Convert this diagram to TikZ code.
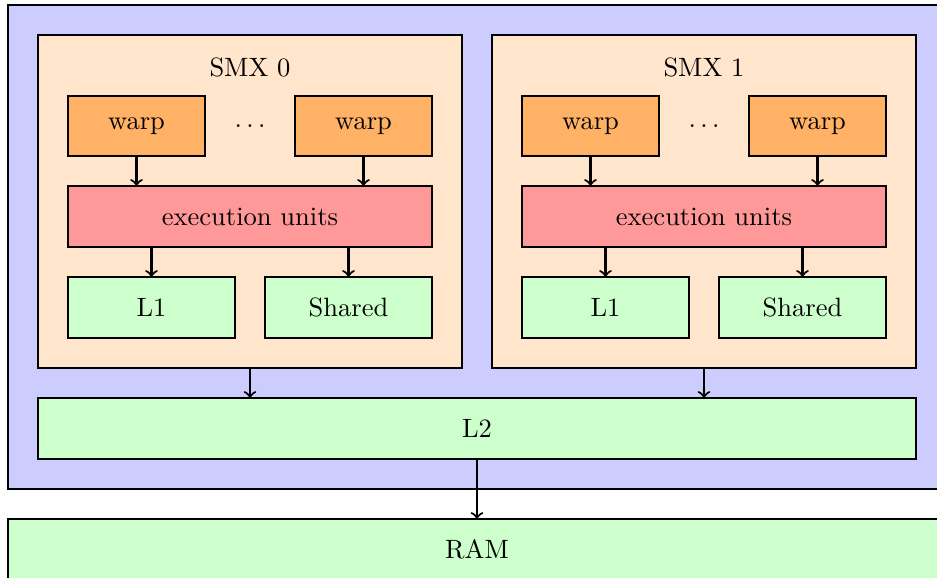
\documentclass[tikz,border=0pt]{standalone}
\begin{document}
\begin{tikzpicture}[x=0.3774pt,y=-0.3774pt,
  box/.style={draw,thick,rectangle,inner sep=0pt,outer sep=0pt},
  outerbox/.style={box,fill=blue!20,minimum width={938*0.3774pt},minimum height={484*0.3774pt}},
  smxbox/.style={box,fill=orange!20,minimum width={424*0.3774pt},minimum height={333*0.3774pt}},
  warpbox/.style={box,fill=orange!60,minimum width={137*0.3774pt},minimum height={60*0.3774pt}},
  execbox/.style={box,fill=red!40,minimum width={364*0.3774pt},minimum height={61*0.3774pt}},
  membox/.style={box,fill=green!20,minimum width={167*0.3774pt},minimum height={61*0.3774pt}},
  widebox/.style={box,fill=green!20,minimum height={61*0.3774pt}},
  arr/.style={->,thick}]
\useasboundingbox (0,0) rectangle (937,578);
\clip (0,0) rectangle (937,578);
\node[outerbox] (gpu) at (477,247) {};
\node[smxbox] (smx0) at (250,201.5) {};
\node[smxbox] (smx1) at (704,201.5) {};
\node (lab0) at (250,67) {SMX 0};
\node (lab1) at (704,67) {SMX 1};
\node[warpbox] (w00) at (136.5,126) {warp};
\node (d0) at (250,126) {$\ldots$};
\node[warpbox] (w01) at (363.5,126) {warp};
\node[warpbox] (w10) at (590.5,126) {warp};
\node (d1) at (704,126) {$\ldots$};
\node[warpbox] (w11) at (817.5,126) {warp};
\node[execbox] (e0) at (250,216.5) {execution units};
\node[execbox] (e1) at (704,216.5) {execution units};
\node[membox] (l10) at (151.5,307.5) {L1};
\node[membox] (sh0) at (348.5,307.5) {Shared};
\node[membox] (l11) at (605.5,307.5) {L1};
\node[membox] (sh1) at (802.5,307.5) {Shared};
\node[widebox,minimum width={878*0.3774pt}] (l2) at (477,428.5) {L2};
\node[widebox,minimum width={938*0.3774pt}] (ram) at (477,549.5) {RAM};
\draw[arr] (w00.south) -- (w00.south |- e0.north);
\draw[arr] (w01.south) -- (w01.south |- e0.north);
\draw[arr] (w10.south) -- (w10.south |- e1.north);
\draw[arr] (w11.south) -- (w11.south |- e1.north);
\draw[arr] (l10.north |- e0.south) -- (l10.north);
\draw[arr] (sh0.north |- e0.south) -- (sh0.north);
\draw[arr] (l11.north |- e1.south) -- (l11.north);
\draw[arr] (sh1.north |- e1.south) -- (sh1.north);
\draw[arr] (smx0.south) -- (smx0.south |- l2.north);
\draw[arr] (smx1.south) -- (smx1.south |- l2.north);
\draw[arr] (l2.south) -- (ram.north);
\end{tikzpicture}
\end{document}
